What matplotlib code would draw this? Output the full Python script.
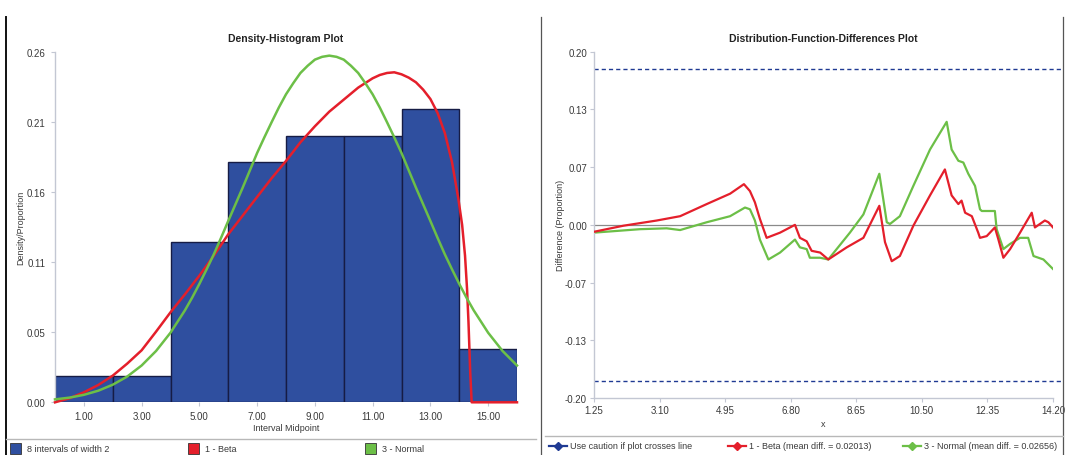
import matplotlib
matplotlib.use("Agg")
import matplotlib.pyplot as plt
from matplotlib.lines import Line2D
from matplotlib.patches import Rectangle

plt.rcParams['font.family'] = ['Liberation Sans', 'DejaVu Sans']

# ---------------- data: left panel (density histogram) ----------------
bin_left = [0, 2, 4, 6, 8, 10, 12, 14]
bin_width = 2
bin_prop = [0.02, 0.02, 0.12, 0.18, 0.20, 0.20, 0.22, 0.04]

beta_x = [0, 0.5, 1, 1.5, 2, 2.5, 3, 3.5, 4, 4.5, 5, 5.5, 6, 6.5, 7, 7.5, 8,
          8.5, 9, 9.5, 10, 10.5, 10.75, 11, 11.25, 11.5, 11.75, 12, 12.25,
          12.5, 12.75, 13, 13.25, 13.5, 13.75, 13.97, 14.1, 14.2, 14.27,
          14.32, 14.38, 14.43, 15, 16]
beta_y = [0.0, 0.003, 0.0075, 0.013, 0.02, 0.029, 0.039, 0.053, 0.0675, 0.081,
          0.095, 0.110, 0.126, 0.140, 0.154, 0.168, 0.181, 0.195, 0.207, 0.218,
          0.227, 0.236, 0.2395, 0.243, 0.2455, 0.247, 0.2475, 0.246, 0.2435,
          0.240, 0.2345, 0.2275, 0.217, 0.202, 0.180, 0.1525, 0.133, 0.11,
          0.085, 0.06, 0.0225, 0.0, 0.0, 0.0]

normal_x = [0, 0.5, 1, 1.5, 2, 2.5, 3, 3.5, 4, 4.5, 4.75, 5, 5.25, 5.5, 5.75,
            6, 6.25, 6.5, 6.75, 7, 7.25, 7.5, 7.75, 8, 8.25, 8.5, 8.75, 9,
            9.25, 9.5, 9.75, 10, 10.25, 10.5, 10.75, 11, 11.25, 11.5, 11.75,
            12, 12.25, 12.5, 12.75, 13, 13.25, 13.5, 13.75, 14, 14.25, 14.5,
            15, 15.5, 16]
normal_y = [0.0022, 0.0035, 0.0056, 0.0087, 0.0132, 0.0193, 0.0276, 0.0385,
            0.0522, 0.069, 0.0785, 0.0888, 0.0997, 0.111, 0.1233, 0.136,
            0.1485, 0.161, 0.174, 0.187, 0.1987, 0.210, 0.221, 0.231, 0.2393,
            0.247, 0.2524, 0.257, 0.2591, 0.260, 0.2591, 0.257, 0.2524, 0.247,
            0.2393, 0.231, 0.221, 0.210, 0.1987, 0.187, 0.174, 0.161, 0.1485,
            0.136, 0.1233, 0.111, 0.0997, 0.0888, 0.0785, 0.069, 0.0522,
            0.0385, 0.0276]

left_xticks = [1, 3, 5, 7, 9, 11, 13, 15]
left_xticklabels = ["1.00", "3.00", "5.00", "7.00", "9.00", "11.00", "13.00", "15.00"]
left_yticks = [0, 0.0525, 0.105, 0.1575, 0.21, 0.2625]
left_yticklabels = ["0.00", "0.05", "0.11", "0.16", "0.21", "0.26"]

# ---------------- data: right panel (distribution-function differences) ----------------
beta_diff_x = [1.25, 2.08, 3.02, 3.68, 4.43, 5.09, 5.48, 5.65, 5.79, 5.93, 6.12,
               6.50, 6.92, 7.06, 7.25, 7.39, 7.63, 7.86, 8.38, 8.85, 9.30, 9.46,
               9.65, 9.88, 10.26, 10.73, 11.15, 11.34, 11.53, 11.62, 11.72,
               11.91, 12.09, 12.14, 12.33, 12.56, 12.66, 12.80, 12.99, 13.27,
               13.60, 13.69, 13.97, 14.07, 14.20]
beta_diff_y = [-0.008, -0.001, 0.005, 0.010, 0.024, 0.036, 0.047, 0.039, 0.026,
               0.007, -0.015, -0.009, 0.000, -0.015, -0.019, -0.030, -0.032,
               -0.040, -0.026, -0.015, 0.022, -0.020, -0.042, -0.036, -0.001,
               0.034, 0.064, 0.034, 0.024, 0.028, 0.014, 0.010, -0.009, -0.015,
               -0.013, -0.003, -0.017, -0.038, -0.028, -0.009, 0.014, -0.003,
               0.005, 0.003, -0.003]

normal_diff_x = [1.25, 2.55, 3.30, 3.68, 4.43, 5.09, 5.51, 5.65, 5.79, 5.93, 6.17,
                 6.50, 6.92, 7.06, 7.25, 7.34, 7.63, 7.86, 8.47, 8.85, 9.30, 9.41,
                 9.51, 9.60, 9.88, 10.26, 10.73, 11.20, 11.34, 11.53, 11.67,
                 11.81, 12.00, 12.14, 12.19, 12.56, 12.61, 12.80, 12.99, 13.27,
                 13.50, 13.65, 13.93, 14.20]
normal_diff_y = [-0.009, -0.005, -0.004, -0.006, 0.003, 0.010, 0.020, 0.018,
                 0.005, -0.017, -0.040, -0.032, -0.017, -0.026, -0.028, -0.038,
                 -0.038, -0.040, -0.009, 0.012, 0.059, 0.030, 0.003, 0.001,
                 0.010, 0.045, 0.087, 0.119, 0.087, 0.074, 0.072, 0.059, 0.045,
                 0.018, 0.016, 0.016, -0.005, -0.028, -0.022, -0.015, -0.015,
                 -0.036, -0.040, -0.051]

caution_level = 0.18
right_xticks = [1.25, 3.10, 4.95, 6.80, 8.65, 10.50, 12.35, 14.20]
right_xticklabels = ["1.25", "3.10", "4.95", "6.80", "8.65", "10.50", "12.35", "14.20"]
right_yticks = [-0.2, -0.1333, -0.0667, 0.0, 0.0667, 0.1333, 0.2]
right_yticklabels = ["-0.20", "-0.13", "-0.07", "0.00", "0.07", "0.13", "0.20"]

legend_left = ["8 intervals of width 2", "1 - Beta", "3 - Normal"]
legend_right = ["Use caution if plot crosses line",
                "1 - Beta (mean diff. = 0.02013)",
                "3 - Normal (mean diff. = 0.02656)"]

# ---------------- styling ----------------
W, H = 1071, 456
BAR = "#2f4f9f"
BAR_EDGE = "#161c45"
RED = "#e41f2b"
GREEN = "#6cbf47"
NAVY = "#1f3a93"
TXT = "#3a3a3a"
SPINE = "#c3c7d3"

fig = plt.figure(figsize=(W / 100, H / 100), dpi=100)
fig.patch.set_facecolor("white")


def ax_rect(x0, y0, x1, y1):
    return [x0 / W, 1 - y1 / H, (x1 - x0) / W, (y1 - y0) / H]


def fx(px):
    return px / W


def fy(py):
    return 1 - py / H


def style_axes(ax):
    for s in ["top", "right"]:
        ax.spines[s].set_visible(False)
    for s in ["left", "bottom"]:
        ax.spines[s].set_color(SPINE)
        ax.spines[s].set_linewidth(1.0)
    ax.tick_params(axis="both", colors=SPINE, labelcolor=TXT, labelsize=7,
                   length=3, width=0.8, pad=4)


# ---------------- left panel ----------------
axL = fig.add_axes(ax_rect(55, 53.3, 517, 403.3))
axL.bar(bin_left, bin_prop, width=bin_width, align="edge", color=BAR,
        edgecolor=BAR_EDGE, linewidth=1.0, zorder=2)
axL.plot(beta_x, beta_y, color=RED, lw=1.8, zorder=3, clip_on=False)
axL.plot(normal_x, normal_y, color=GREEN, lw=1.8, zorder=4, clip_on=False)
axL.set_xlim(0, 16)
axL.set_ylim(0, 0.2625)
axL.set_xticks(left_xticks)
axL.set_xticklabels(left_xticklabels)
axL.set_yticks(left_yticks)
axL.set_yticklabels(left_yticklabels)
style_axes(axL)
axL.spines["bottom"].set_visible(False)
axL.tick_params(axis="x", pad=3)
axL.set_title("Density-Histogram Plot", fontsize=7.5, fontweight="bold",
              color="#222222", pad=8)
axL.set_xlabel("Interval Midpoint", fontsize=6.5, color=TXT, labelpad=2)
axL.set_ylabel("Density/Proportion", fontsize=6.5, color=TXT, labelpad=1)

# ---------------- right panel ----------------
axR = fig.add_axes(ax_rect(594, 52.7, 1053, 399))
axR.axhline(0, color="#8a8a8a", lw=0.9, zorder=1, xmax=1.0)
axR.axhline(caution_level, color=NAVY, lw=1.0, ls=(0, (3, 2.2)), xmax=1.02,
            clip_on=False, zorder=1)
axR.axhline(-caution_level, color=NAVY, lw=1.0, ls=(0, (3, 2.2)), xmax=1.02,
            clip_on=False, zorder=1)
axR.plot(beta_diff_x, beta_diff_y, color=RED, lw=1.6, zorder=3)
axR.plot(normal_diff_x, normal_diff_y, color=GREEN, lw=1.6, zorder=2)
axR.set_xlim(1.25, 14.20)
axR.set_ylim(-0.2, 0.2)
axR.set_xticks(right_xticks)
axR.set_xticklabels(right_xticklabels)
axR.set_yticks(right_yticks)
axR.set_yticklabels(right_yticklabels)
style_axes(axR)
axR.tick_params(axis="y", pad=2)
axR.tick_params(axis="x", pad=2)
axR.set_title("Distribution-Function-Differences Plot", fontsize=7.5,
              fontweight="bold", color="#222222", pad=8)
axR.set_xlabel("x", fontsize=6.5, color=TXT, labelpad=3)
axR.set_ylabel("Difference (Proportion)", fontsize=6.5, color=TXT, labelpad=0)

# ---------------- panel frames / separators ----------------
fig.add_artist(Line2D([fx(6), fx(6)], [fy(18), fy(456)], color="#111111", lw=1.4))
fig.add_artist(Line2D([fx(541), fx(541)], [fy(18), fy(456)], color="#555555", lw=0.9))
fig.add_artist(Line2D([fx(1063), fx(1063)], [fy(18), fy(456)], color="#555555", lw=0.9))
fig.add_artist(Line2D([fx(6), fx(536)], [fy(440), fy(440)], color="#b8b8b8", lw=1.0))
fig.add_artist(Line2D([fx(545), fx(1063)], [fy(437), fy(437)], color="#b8b8b8", lw=1.0))

# ---------------- left legend ----------------
sq_colors = [BAR, RED, GREEN]
sq_x = [10, 188, 365]
for c, x0, lab in zip(sq_colors, sq_x, legend_left):
    fig.add_artist(Rectangle((fx(x0), fy(455)), 11 / W, 11 / H,
                             facecolor=c, edgecolor="#333333", lw=0.6,
                             transform=fig.transFigure))
    fig.text(fx(x0 + 17), fy(449.5), lab, fontsize=6.5, color=TXT,
             va="center", ha="left")

# ---------------- right legend ----------------
line_colors = [NAVY, RED, GREEN]
line_x = [549, 728, 903]
for c, x0, lab in zip(line_colors, line_x, legend_right):
    fig.add_artist(Line2D([fx(x0), fx(x0 + 18)], [fy(446.5), fy(446.5)],
                          color=c, lw=1.6, transform=fig.transFigure))
    fig.add_artist(Line2D([fx(x0 + 9)], [fy(446.5)], color=c, marker="D",
                          markersize=4.5, lw=0, transform=fig.transFigure))
    fig.text(fx(x0 + 21), fy(446.5), lab, fontsize=6.5, color=TXT,
             va="center", ha="left")

fig.savefig("out.png", dpi=100)
